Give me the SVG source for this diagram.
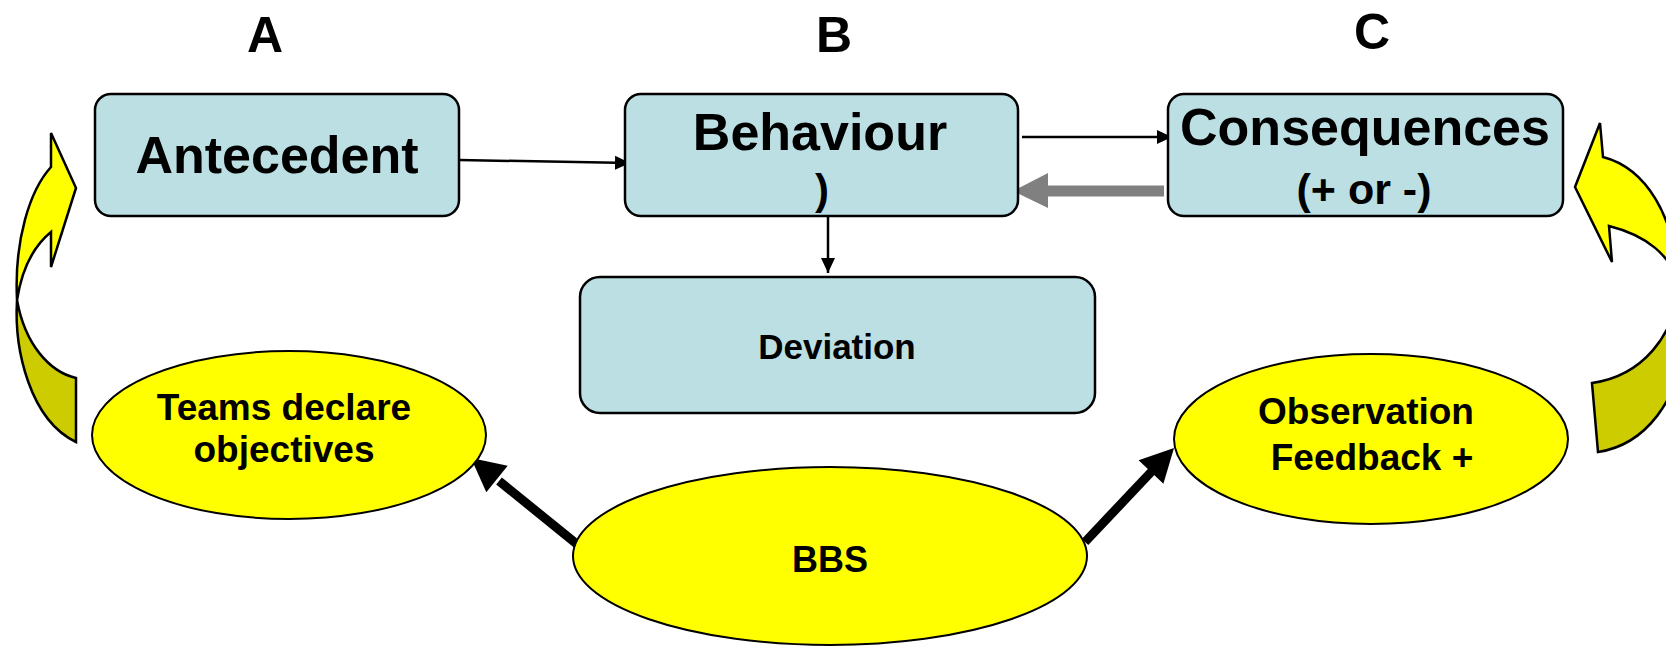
<svg xmlns="http://www.w3.org/2000/svg" width="1666" height="646" viewBox="0 0 1666 646">
  <defs>
    <style>
      text { font-family: "Liberation Sans", Arial, sans-serif; font-weight: bold; fill: #000; text-anchor: middle; }
      .box { fill: #BBDFE3; stroke: #000; stroke-width: 2.5; }
      .oval { fill: #FFFF00; stroke: #000; stroke-width: 2; }
      .thin { stroke: #000; stroke-width: 2.5; fill: none; }
      .thick { stroke: #000; stroke-width: 9; fill: none; }
      .bend { stroke: #000; stroke-width: 2.5; stroke-linejoin: miter; }
      .front { fill: #FFFF00; }
      .back { fill: #CCCC00; }
    </style>
    <marker id="head" markerUnits="userSpaceOnUse" markerWidth="16" markerHeight="16" refX="15" refY="8" orient="auto">
      <path d="M0,1 L15,8 L0,15 Z" fill="#000"/>
    </marker>
  </defs>

  <!-- column letters -->
  <g id="letters">
    <text x="265" y="52" font-size="50">A</text>
    <text x="834" y="52" font-size="50">B</text>
    <text x="1372" y="49" font-size="50">C</text>
  </g>

  <!-- looping arrows at both sides -->
  <g id="loop-left">
    <path class="back bend" d="M17,300 C25,345 50,372 76,378 L76,442 C30,420 14,350 17,300 Z"/>
    <path class="front bend" d="M17,300 C14,240 30,190 51,167 L51,133 L76,188 L51,267 L51,232 C35,245 22,268 17,300 Z"/>
  </g>
  <g id="loop-right">
    <path class="back bend" d="M1678,285 C1676,335 1642,376 1592,383 L1598,452 C1645,445 1680,400 1684,340 Z"/>
    <path class="front bend" d="M1603,157 C1645,168 1676,215 1678,285 C1672,255 1645,235 1609,226 L1612,262 L1575,187 L1600,123 Z"/>
  </g>

  <!-- connectors -->
  <g id="connectors">
    <line class="thin" x1="459" y1="160" x2="630" y2="163" marker-end="url(#head)"/>
    <line class="thin" x1="1022" y1="137" x2="1172" y2="137" marker-end="url(#head)"/>
    <line class="thin" x1="828" y1="216" x2="828" y2="273" marker-end="url(#head)"/>
    <polygon fill="#808080" points="1164,185.5 1048,185.5 1048,173 1013,191 1048,208 1048,196.5 1164,196.5"/>
    <line class="thick" x1="578" y1="545" x2="499" y2="481"/>
    <polygon fill="#000" points="471,458 507.7,465.8 486.3,492.2"/>
    <line class="thick" x1="1085" y1="542" x2="1153" y2="470"/>
    <polygon fill="#000" points="1174,448 1163.4,483.7 1138.6,460.3"/>
  </g>

  <!-- nodes -->
  <g id="antecedent">
    <rect class="box" x="95" y="94" width="364" height="122" rx="16"/>
    <text x="277" y="173" font-size="52">Antecedent</text>
  </g>
  <g id="behaviour">
    <rect class="box" x="625" y="94" width="393" height="122" rx="16"/>
    <text x="820" y="150" font-size="52">Behaviour</text>
    <text x="822" y="204" font-size="42">)</text>
  </g>
  <g id="consequences">
    <rect class="box" x="1168" y="94" width="395" height="122" rx="16"/>
    <text x="1365" y="145" font-size="52">Consequences</text>
    <text x="1364" y="204" font-size="43">(+ or -)</text>
  </g>
  <g id="deviation">
    <rect class="box" x="580" y="277" width="515" height="136" rx="20"/>
    <text x="837" y="359" font-size="35">Deviation</text>
  </g>
  <g id="teams">
    <ellipse class="oval" cx="289" cy="435" rx="197" ry="84"/>
    <text x="284" y="420" font-size="37">Teams declare</text>
    <text x="284" y="462" font-size="37">objectives</text>
  </g>
  <g id="observation">
    <ellipse class="oval" cx="1371" cy="439" rx="197" ry="85"/>
    <text x="1366" y="424" font-size="37">Observation</text>
    <text x="1372" y="470" font-size="37">Feedback +</text>
  </g>
  <g id="bbs">
    <ellipse class="oval" cx="830" cy="556" rx="257" ry="89"/>
    <text x="830" y="572" font-size="36">BBS</text>
  </g>
</svg>
